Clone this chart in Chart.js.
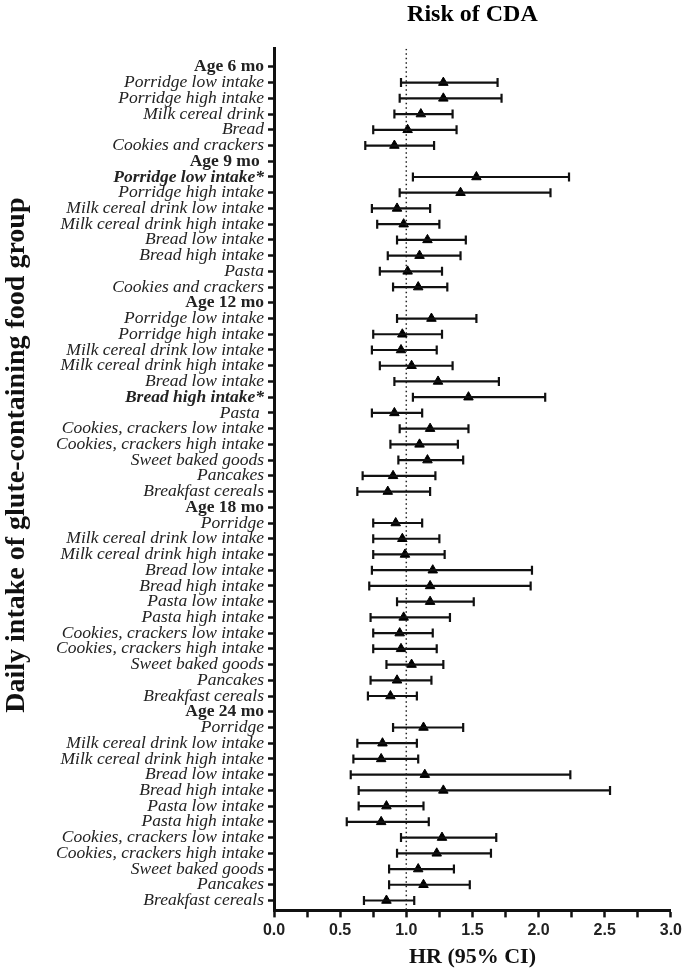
<!DOCTYPE html>
<html lang="en">
<head>
<meta charset="UTF-8">
<title>Risk of CDA</title>
<script src="https://cdn.jsdelivr.net/npm/chart.js"></script>
<style>
  html, body { margin: 0; padding: 0; background: #fff; }
</style>
</head>
<body>
<canvas id="forest" width="686" height="975"></canvas>
<script>
// rows from top to bottom; null = age header row
const labels = [
  'Age 6 mo', 'Porridge low intake', 'Porridge high intake', 'Milk cereal drink', 'Bread', 'Cookies and crackers',
  'Age 9 mo ', 'Porridge low intake*', 'Porridge high intake', 'Milk cereal drink low intake', 'Milk cereal drink high intake',
  'Bread low intake', 'Bread high intake', 'Pasta', 'Cookies and crackers',
  'Age 12 mo', 'Porridge low intake', 'Porridge high intake', 'Milk cereal drink low intake', 'Milk cereal drink high intake',
  'Bread low intake', 'Bread high intake*', 'Pasta ', 'Cookies, crackers low intake', 'Cookies, crackers high intake',
  'Sweet baked goods', 'Pancakes', 'Breakfast cereals',
  'Age 18 mo', 'Porridge', 'Milk cereal drink low intake', 'Milk cereal drink high intake', 'Bread low intake', 'Bread high intake',
  'Pasta low intake', 'Pasta high intake', 'Cookies, crackers low intake', 'Cookies, crackers high intake',
  'Sweet baked goods', 'Pancakes', 'Breakfast cereals',
  'Age 24 mo', 'Porridge', 'Milk cereal drink low intake', 'Milk cereal drink high intake', 'Bread low intake', 'Bread high intake',
  'Pasta low intake', 'Pasta high intake', 'Cookies, crackers low intake', 'Cookies, crackers high intake',
  'Sweet baked goods', 'Pancakes', 'Breakfast cereals'
];

const hr = [
  null, 1.28, 1.28, 1.11, 1.01, 0.91,
  null, 1.53, 1.41, 0.93, 0.98, 1.16, 1.10, 1.01, 1.09,
  null, 1.19, 0.97, 0.96, 1.04, 1.24, 1.47, 0.91, 1.18, 1.10, 1.16, 0.90, 0.86,
  null, 0.92, 0.97, 0.99, 1.20, 1.18, 1.18, 0.98, 0.95, 0.96, 1.04, 0.93, 0.88,
  null, 1.13, 0.82, 0.81, 1.14, 1.28, 0.85, 0.81, 1.27, 1.23, 1.09, 1.13, 0.85
];
const lo = [
  null, 0.96, 0.95, 0.91, 0.75, 0.69,
  null, 1.05, 0.95, 0.74, 0.78, 0.93, 0.86, 0.80, 0.90,
  null, 0.93, 0.75, 0.74, 0.80, 0.91, 1.05, 0.74, 0.95, 0.88, 0.94, 0.67, 0.63,
  null, 0.75, 0.75, 0.75, 0.74, 0.72, 0.93, 0.73, 0.75, 0.75, 0.85, 0.73, 0.71,
  null, 0.90, 0.63, 0.60, 0.58, 0.64, 0.64, 0.55, 0.96, 0.93, 0.87, 0.87, 0.68
];
const hi = [
  null, 1.69, 1.72, 1.35, 1.38, 1.21,
  null, 2.23, 2.09, 1.18, 1.25, 1.45, 1.41, 1.27, 1.31,
  null, 1.53, 1.27, 1.23, 1.35, 1.70, 2.05, 1.12, 1.47, 1.39, 1.43, 1.22, 1.18,
  null, 1.12, 1.25, 1.29, 1.95, 1.94, 1.51, 1.33, 1.20, 1.23, 1.28, 1.19, 1.08,
  null, 1.43, 1.08, 1.09, 2.24, 2.54, 1.13, 1.17, 1.68, 1.64, 1.36, 1.48, 1.06
];

const xMin = 0, xMax = 3, xStep = 0.25, xLabelStep = 0.5;
const yMin = -1.15, yMax = 53.63;
const refValue = 1;

const isHeader = (i) => hr[i] === null;
const isStarred = (i) => labels[i].includes('*');

// error bar segments, separated by gaps (NaN points break the line)
const ciLines = [];
const caps = [];
const points = [];
labels.forEach((_, i) => {
  if (isHeader(i)) return;
  ciLines.push({ x: lo[i], y: i }, { x: hi[i], y: i }, { x: NaN, y: NaN });
  caps.push({ x: lo[i], y: i }, { x: hi[i], y: i });
  points.push({ x: hr[i], y: i });
});

const serif = "'Liberation Serif', 'DejaVu Serif', serif";

function labelFont(ctx) {
  const i = ctx.tick ? ctx.tick.value : ctx.index;
  const base = { family: serif, size: 17.5, style: 'italic', weight: 'normal' };
  if (labels[i] === undefined) return base;
  if (isHeader(i)) return { ...base, style: 'normal', weight: 'bold' };
  if (isStarred(i)) return { ...base, weight: 'bold' };
  return base;
}

new Chart(document.getElementById('forest'), {
  data: {
    datasets: [
      {
        type: 'line',
        data: [{ x: refValue, y: yMin }, { x: refValue, y: yMax }],
        borderColor: '#222',
        borderWidth: 1.5,
        borderDash: [1.5, 3],
        pointRadius: 0
      },
      {
        type: 'line',
        data: ciLines,
        borderColor: '#111',
        borderWidth: 2.2,
        pointRadius: 0,
        spanGaps: false
      },
      {
        type: 'scatter',
        data: caps,
        pointStyle: 'line',
        rotation: 90,
        radius: 4.5,
        borderColor: '#111',
        borderWidth: 2.2
      },
      {
        type: 'scatter',
        data: points,
        pointStyle: 'triangle',
        radius: 5.5,
        backgroundColor: '#000',
        borderColor: '#000',
        borderWidth: 1
      }
    ]
  },
  options: {
    responsive: false,
    animation: false,
    layout: { padding: { left: 0, right: 0, top: 0, bottom: 4 } },
    plugins: {
      legend: { display: false },
      tooltip: { enabled: false }
    },
    scales: {
      // top axis only carries the title, centred over the plot
      top: {
        axis: 'x',
        type: 'linear',
        position: 'top',
        min: xMin,
        max: xMax,
        grid: { display: false, drawTicks: false },
        border: { display: false },
        ticks: { display: false },
        title: {
          display: true,
          text: 'Risk of CDA',
          color: '#000',
          font: { family: serif, size: 24, weight: 'bold' },
          padding: { top: 0, bottom: 20 }
        }
      },
      x: {
        type: 'linear',
        position: 'bottom',
        min: xMin,
        max: xMax,
        grid: { drawOnChartArea: false, color: '#111', tickLength: 7, tickWidth: 2.5 },
        border: { color: '#111', width: 3 },
        ticks: {
          stepSize: xStep,
          color: '#222',
          padding: 4,
          maxRotation: 0,
          autoSkip: false,
          font: { family: "'Liberation Sans', Arial, sans-serif", size: 16, weight: 'bold' },
          callback: (v) => (Math.abs(v / xLabelStep - Math.round(v / xLabelStep)) < 1e-6 ? v.toFixed(1) : '')
        },
        title: {
          display: true,
          text: 'HR (95% CI)',
          color: '#111',
          font: { family: serif, size: 22, weight: 'bold' },
          padding: { top: 0, bottom: 0 }
        }
      },
      y: {
        type: 'linear',
        min: yMin,
        max: yMax,
        reverse: true,
        afterBuildTicks: (axis) => {
          axis.ticks = labels.map((_, i) => ({ value: i }));
        },
        afterFit: (axis) => { axis.width = 274; },
        grid: { drawOnChartArea: false, color: '#111', tickLength: 6, tickWidth: 2.5 },
        border: { color: '#111', width: 3 },
        ticks: {
          autoSkip: false,
          padding: 4,
          color: '#222',
          callback: (v) => labels[v],
          font: labelFont
        },
        title: {
          display: true,
          // leading spaces push the rotated title up to where it sits in the original
          text: '       Daily intake of glute-containing food group',
          color: '#111',
          font: { family: serif, size: 28, weight: 'bold' },
          padding: { top: 0, bottom: 0 }
        }
      }
    }
  }
});
</script>
</body>
</html>
